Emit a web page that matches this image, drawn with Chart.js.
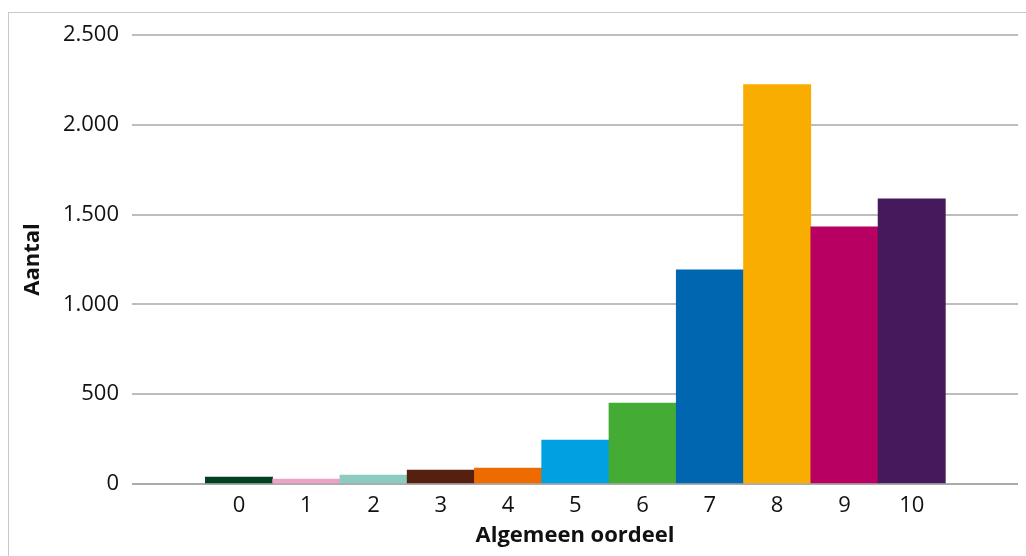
<!DOCTYPE html>
<html>
<head>
<meta charset="UTF-8">
<title>Algemeen oordeel</title>
<script src="https://cdn.jsdelivr.net/npm/chart.js@4.4.1/dist/chart.umd.min.js"></script>
<style>
    body {
        margin: 0;
        padding: 0;
        background: #fff;
        overflow: hidden;
    }
    .kader {
        position: absolute;
        left: 8px;
        top: 12px;
        width: 1100px;
        height: 600px;
        border: 1.5px solid #c9c9c9;
    }
    #grafiek {
        position: absolute;
        left: 0;
        top: 0;
    }
</style>
</head>
<body>
<div class="kader"></div>
<canvas id="grafiek" width="1026" height="556"></canvas>
<script>
const cijfers = [0, 1, 2, 3, 4, 5, 6, 7, 8, 9, 10];
const aantallen = [39, 28, 50, 78, 89, 245, 451, 1192, 2224, 1432, 1588];
const kleuren = ['#02401f', '#f0a1c7', '#8ccbbf', '#55200d', '#ed6b00', '#00a1e1',
                 '#44ac34', '#0066b0', '#f9ad00', '#b80063', '#46185c'];
const yTicks = [0, 500, 1000, 1500, 2000, 2500];

// duizendtallen met punt, zoals 2.500
function formatNL(v) {
    return String(v).replace(/\B(?=(\d{3})+(?!\d))/g, '.');
}

const fontNaam = "'Open Sans', 'Noto Sans', sans-serif";

const ctx = document.getElementById('grafiek').getContext('2d');
new Chart(ctx, {
    type: 'bar',
    data: {
        datasets: [{
            label: 'Aantal',
            data: cijfers.map((c, i) => ({ x: c, y: aantallen[i] })),
            backgroundColor: kleuren,
            borderWidth: 0,
            barPercentage: 1,
            categoryPercentage: 1
        }]
    },
    options: {
        responsive: false,
        animation: false,
        layout: { padding: { left: 0, right: 8, top: 35, bottom: 0 } },
        plugins: {
            legend: { display: false },
            tooltip: { enabled: false }
        },
        scales: {
            x: {
                type: 'linear',
                offset: false,
                min: -1.59,
                max: 11.58,
                afterBuildTicks: (scale) => {
                    scale.ticks = cijfers.map(v => ({ value: v }));
                },
                afterFit: (scale) => { scale.height = 72; },
                grid: { display: false, drawTicks: false },
                border: { display: false },
                ticks: {
                    color: '#111',
                    padding: 9,
                    maxRotation: 0,
                    autoSkip: false,
                    font: { family: fontNaam, size: 22 },
                    callback: (v) => String(v)
                },
                title: {
                    display: true,
                    text: 'Algemeen oordeel',
                    color: '#111',
                    padding: { top: 0, bottom: 7 },
                    font: { family: fontNaam, size: 22, weight: 'bold' }
                }
            },
            y: {
                min: 0,
                max: 2500,
                afterBuildTicks: (scale) => {
                    scale.ticks = yTicks.map(v => ({ value: v }));
                },
                afterFit: (scale) => { scale.width = 132; },
                grid: {
                    drawTicks: false,
                    lineWidth: 2,
                    color: (c) => c.tick && c.tick.value === 0 ? '#ababab' : '#bdbdbd'
                },
                border: { display: false },
                ticks: {
                    color: '#111',
                    padding: 13,
                    font: { family: fontNaam, size: 22 },
                    callback: (v) => formatNL(v)
                },
                title: {
                    display: true,
                    text: 'Aantal',
                    color: '#111',
                    padding: { top: 20, bottom: 0 },
                    font: { family: fontNaam, size: 22, weight: 'bold' }
                }
            }
        }
    }
});
</script>
</body>
</html>
